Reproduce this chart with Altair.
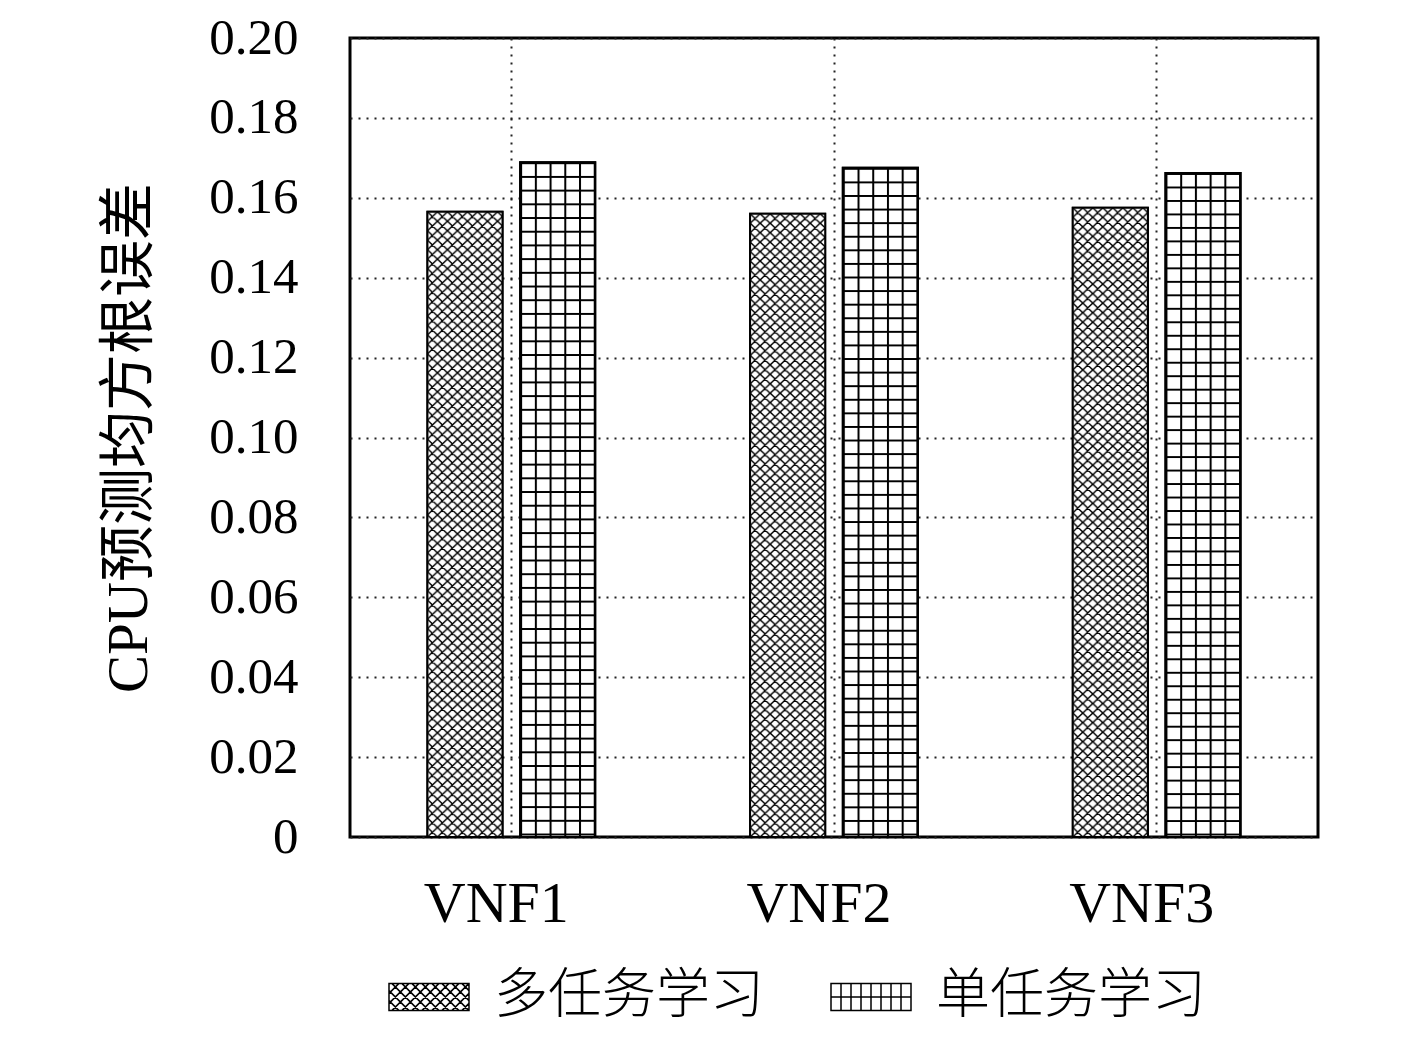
import base64
import altair as alt
import pandas as pd

# ---------------- data ----------------
categories = ["VNF1", "VNF2", "VNF3"]
series_names = ["多任务学习", "单任务学习"]
multi_task = [0.1565, 0.1560, 0.1575]
single_task = [0.1689, 0.1675, 0.1662]
y_ticks = [0, 0.02, 0.04, 0.06, 0.08, 0.10, 0.12, 0.14, 0.16, 0.18, 0.20]

rows = []
for i, c in enumerate(categories):
    rows.append({"vnf": c, "series": series_names[0], "rmse": multi_task[i]})
    rows.append({"vnf": c, "series": series_names[1], "rmse": single_task[i]})
df = pd.DataFrame(rows)

FONT = "Liberation Serif, Noto Sans CJK SC"


# ---------------- fill patterns (style only) ----------------
def svg_uri(tw, th, body):
    svg = (
        '<svg xmlns="http://www.w3.org/2000/svg" width="75" height="660" '
        'viewBox="0 0 75 660" preserveAspectRatio="none">'
        f'<defs><pattern id="p" patternUnits="userSpaceOnUse" width="{tw}" height="{th}">{body}</pattern></defs>'
        '<rect width="75" height="660" fill="white"/>'
        '<rect width="75" height="660" fill="url(#p)"/></svg>'
    )
    return "data:image/svg+xml;base64," + base64.b64encode(svg.encode("utf-8")).decode("ascii")


cross_uri = svg_uri(
    10, 10,
    '<path d="M0,0 L10,10 M-1,9 L1,11 M9,-1 L11,1 M10,0 L0,10 M-1,1 L1,-1 M9,11 L11,9" '
    'stroke="black" stroke-width="1.5" fill="none"/>'
)
grid_uri = svg_uri(
    14.7, 13.4,
    '<path d="M0,1 H14.7 M1,0 V13.4" stroke="black" stroke-width="2" fill="none"/>'
)

# legend symbol paths in unit coordinates
H = 0.34


def f3(v):
    return f"{v:.3f}"


def rect_path():
    return f"M-1,{-H}L1,{-H}L1,{H}L-1,{H}Z"


def cross_path(step=0.25):
    parts = [rect_path()]
    c = -1 - H
    while c <= 1 + H + 1e-9:
        y0, y1 = max(-H, -1 - c), min(H, 1 - c)
        if y1 > y0:
            parts.append(f"M{f3(y0 + c)},{f3(y0)}L{f3(y1 + c)},{f3(y1)}")
        y0b, y1b = max(-H, c - 1), min(H, c + 1)
        if y1b > y0b:
            parts.append(f"M{f3(c - y0b)},{f3(y0b)}L{f3(c - y1b)},{f3(y1b)}")
        c += step
    return "".join(parts)


def grid_path(step=0.25):
    parts = [rect_path()]
    k = 1
    while -1 + k * step < 1 - 1e-9:
        x = -1 + k * step
        parts.append(f"M{f3(x)},{-H}L{f3(x)},{H}")
        k += 1
    parts.append("M-1,0L1,0")
    return "".join(parts)


path_multi = cross_path()
path_single = grid_path()

# ---------------- encodings ----------------
x_enc = alt.X(
    "vnf:N",
    sort=categories,
    scale=alt.Scale(domain=categories, paddingInner=0.48, paddingOuter=0.24),
    axis=alt.Axis(
        title=None, labelAngle=0, bandPosition=0.5, grid=True,
        gridDash=[2, 6], gridColor="#222", gridWidth=2,
        domain=False, ticks=False, labelFontSize=58, labelFont=FONT,
        labelPadding=38, labelOffset=-15, labelColor="black",
    ),
)
xoff_enc = alt.XOffset(
    "series:N",
    scale=alt.Scale(domain=series_names, paddingInner=0.19, paddingOuter=0),
)
y_enc = alt.Y(
    "rmse:Q",
    scale=alt.Scale(domain=[0, 0.2], nice=False),
    axis=alt.Axis(
        title="CPU预测均方根误差", values=y_ticks,
        labelExpr="datum.value == 0 ? '0' : format(datum.value, '.2f')",
        grid=True, gridDash=[2, 6], gridColor="#222", gridWidth=2,
        domain=False, ticks=False, labelFontSize=51, labelFont=FONT,
        labelPadding=52, labelColor="black",
        titleFontSize=57, titleFont=FONT, titleFontWeight="normal",
        titlePadding=50, titleColor="black",
    ),
)

legend_common = dict(
    title=None, orient="none", legendY=918,
    symbolSize=6400, symbolStrokeWidth=1.5,
    labelFont=FONT, labelFontSize=54, labelFontWeight=300,
    labelColor="black", labelLimit=600, labelOffset=24,
)

bars_multi = alt.Chart().transform_filter(
    alt.datum.series == series_names[0]
).mark_bar(stroke="black", strokeWidth=2).encode(
    x=x_enc, xOffset=xoff_enc, y=y_enc,
    fill=alt.Fill(
        "series:N",
        scale=alt.Scale(domain=[series_names[0]], range=["white"]),
        legend=alt.Legend(legendX=38, symbolType=path_multi,
                          symbolStrokeColor="black", **legend_common),
    ),
)

bars_single = alt.Chart().transform_filter(
    alt.datum.series == series_names[1]
).mark_bar(fill="white", strokeWidth=2).encode(
    x=x_enc, xOffset=xoff_enc, y=y_enc,
    stroke=alt.Stroke(
        "series:N",
        scale=alt.Scale(domain=[series_names[1]], range=["black"]),
        legend=alt.Legend(legendX=480, symbolType=path_single,
                          symbolFillColor="white", **legend_common),
    ),
)

images = alt.Chart().mark_image(aspect=False).encode(
    x=x_enc, xOffset=xoff_enc, y=y_enc, y2=alt.datum(0),
    url=alt.condition(alt.datum.series == series_names[0],
                      alt.value(cross_uri), alt.value(grid_uri)),
)

outline = alt.Chart().mark_bar(fillOpacity=0, stroke="black", strokeWidth=2).encode(
    x=x_enc, xOffset=xoff_enc, y=y_enc,
)

chart = alt.layer(bars_multi, bars_single, images, outline, data=df).properties(
    width=968, height=799,
    padding={"left": 342, "top": 30, "right": 80, "bottom": 192},
    autosize=alt.AutoSizeParams(type="none"),
    background="white",
).configure_view(stroke="black", strokeWidth=3)

chart.save("out.html", embed_options={"renderer": "svg", "actions": False})
